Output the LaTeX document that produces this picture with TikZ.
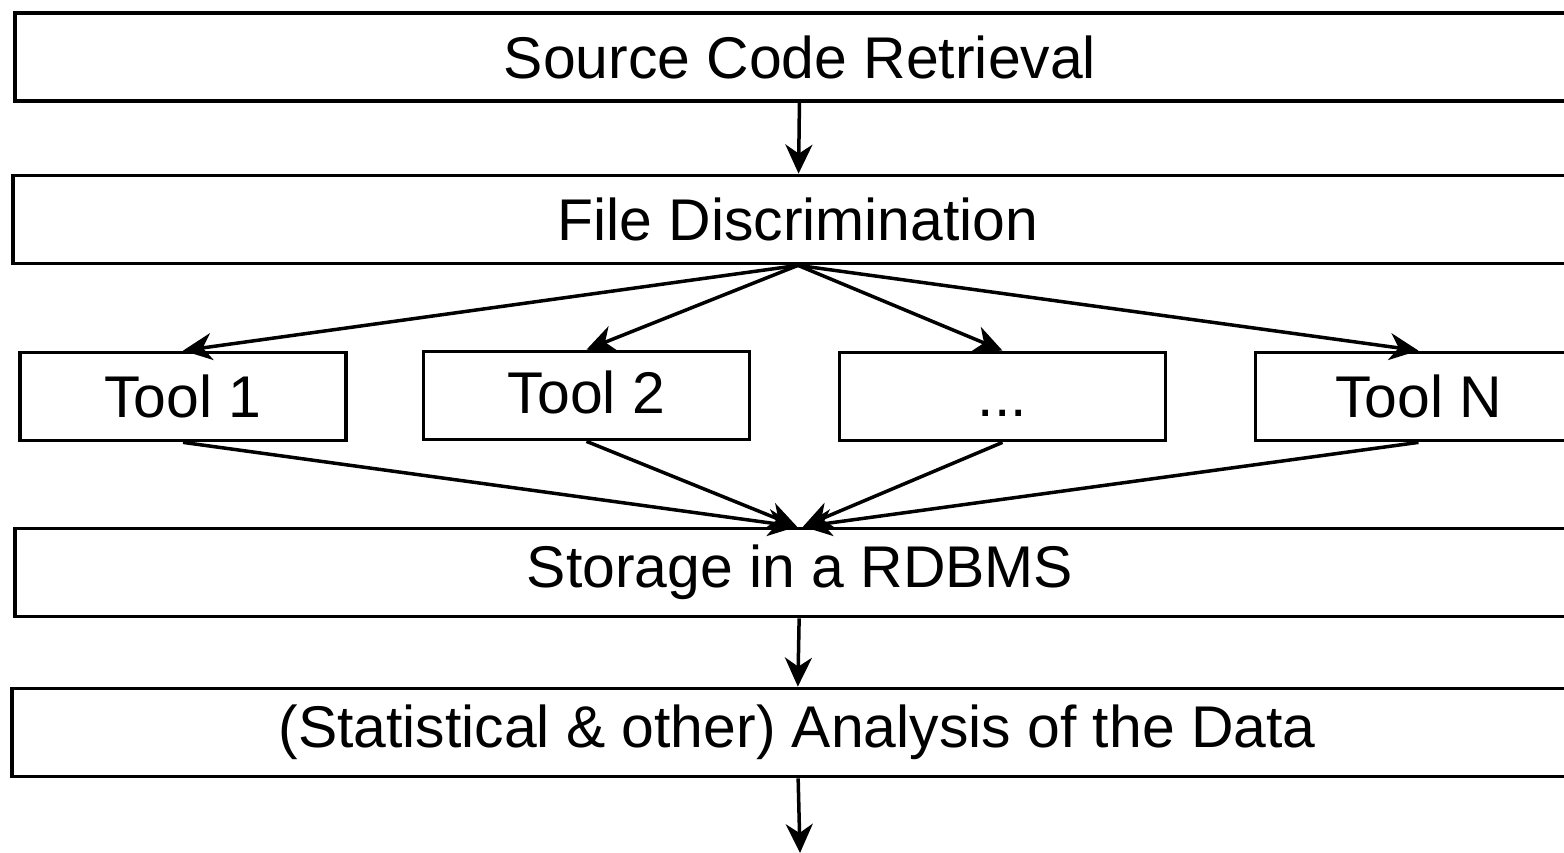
\documentclass[tikz,border=0pt]{standalone}
\usepackage{fontspec}
\setmainfont{Liberation Sans}
\usetikzlibrary{arrows, arrows.meta}

\tikzset{
  stage/.style={draw, line width=0.075cm, minimum width=31.4cm, minimum height=1.76cm, inner sep=0pt, font=\fontsize{33.5}{40}\selectfont},
  tool/.style={stage, minimum width=6.52cm},
  flow/.style={line width=0.07cm, -{Stealth[length=0.58cm,width=0.54cm,inset=0.18cm]}}
}

\begin{document}
\begin{tikzpicture}
\useasboundingbox (0,0) rectangle (31.28,-17.06);
\clip (0,0) rectangle (31.28,-17.06);

\node[stage] (src) at (16.0,-1.14) {Source Code Retrieval};
\node[stage] (disc) at (15.96,-4.39) {File Discrimination};

\node[tool] (t1) at (3.66,-7.93) {Tool 1};
\node[tool] (t2) at (11.73,-7.91) {\raisebox{0.14cm}{Tool 2}};
\node[tool] (tdots) at (20.05,-7.93) {\vphantom{T}...};
\node[tool] (tn) at (28.37,-7.93) {Tool N};

\node[stage] (store) at (16.0,-11.45) {Storage in a RDBMS};
\node[stage] (ana) at (15.94,-14.65) {(Statistical \& other) Analysis of the Data};
\coordinate (out) at (16.0,-17.06);

\draw[flow] (src) -- (disc);
\foreach \t in {t1, t2, tdots, tn}
  \draw[flow] (disc.south) -- (\t.north);
\draw[flow] (t1.south) -- ([xshift=-0.6mm]store.north);
\draw[flow] (t2.south) -- ([xshift=-0.6mm]store.north);
\draw[flow] (tdots.south) -- ([xshift=0.6mm]store.north);
\draw[flow] (tn.south) -- ([xshift=0.6mm]store.north);
\draw[flow] (store) -- (ana);
\draw[flow] (ana) -- (out);

\end{tikzpicture}
\end{document}
